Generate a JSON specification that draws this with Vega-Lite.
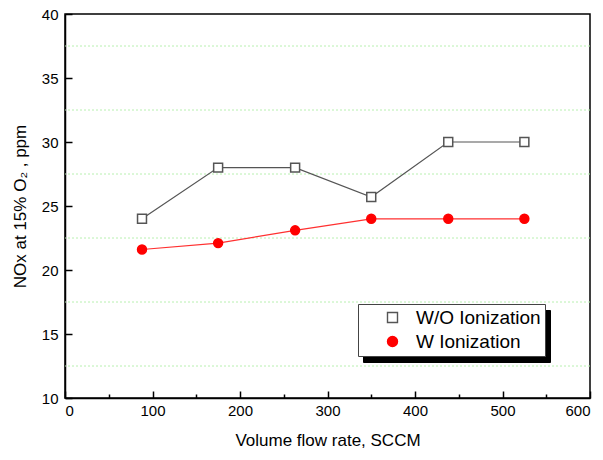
{
  "$schema": "https://vega.github.io/schema/vega-lite/v6.json",
  "width": 525,
  "height": 384,
  "autosize": {"type": "none"},
  "padding": {"left": 65, "top": 14, "right": 13, "bottom": 62},
  "config": {
    "font": "Liberation Sans",
    "view": {"stroke": "black", "strokeWidth": 1.5},
    "axis": {"grid": false, "domainColor": "black", "domainWidth": 1.5, "tickColor": "black", "tickWidth": 1.5,
             "labelColor": "black", "titleColor": "black", "labelFontSize": 15, "titleFontSize": 17, "titleFontWeight": "normal"},
    "legend": {"title": null, "orient": "none", "labelFontSize": 19, "symbolSize": 100, "padding": 4, "rowPadding": 4,
               "labelColor": "black", "symbolStrokeWidth": 1.4, "labelOffset": 14, "symbolOffset": 21, "symbolLimit": 0}
  },
  "datasets": {
    "pts": [
      {"flow": 88, "nox": 24.0, "series": "W/O Ionization"},
      {"flow": 175, "nox": 28.0, "series": "W/O Ionization"},
      {"flow": 263, "nox": 28.0, "series": "W/O Ionization"},
      {"flow": 350, "nox": 25.7, "series": "W/O Ionization"},
      {"flow": 438, "nox": 30.0, "series": "W/O Ionization"},
      {"flow": 525, "nox": 30.0, "series": "W/O Ionization"},
      {"flow": 88, "nox": 21.6, "series": "W Ionization"},
      {"flow": 175, "nox": 22.1, "series": "W Ionization"},
      {"flow": 263, "nox": 23.1, "series": "W Ionization"},
      {"flow": 350, "nox": 24.0, "series": "W Ionization"},
      {"flow": 438, "nox": 24.0, "series": "W Ionization"},
      {"flow": 525, "nox": 24.0, "series": "W Ionization"}
    ],
    "grid": [{"g": 12.5}, {"g": 17.5}, {"g": 22.5}, {"g": 27.5}, {"g": 32.5}, {"g": 37.5}]
  },
  "layer": [
    {
      "data": {"name": "grid"},
      "mark": {"type": "rule", "color": "#b8f0b0", "strokeDash": [2, 2], "strokeWidth": 1},
      "encoding": {
        "y": {"field": "g", "type": "quantitative", "scale": {"domain": [10, 40]}}
      }
    },
    {
      "data": {"name": "pts"},
      "mark": {"type": "line", "strokeWidth": 1.2},
      "encoding": {
        "x": {"field": "flow", "type": "quantitative", "scale": {"domain": [0, 600], "nice": false},
              "axis": {"title": "Volume flow rate, SCCM", "values": [0, 50, 100, 150, 200, 250, 300, 350, 400, 450, 500, 550, 600],
                       "labelExpr": "datum.value % 100 === 0 ? datum.label : ''",
                       "tickSize": {"expr": "datum.value % 100 === 0 ? -7 : -4"}, "labelPadding": 12, "titlePadding": 14}},
        "y": {"field": "nox", "type": "quantitative", "scale": {"domain": [10, 40], "nice": false},
              "axis": {"title": "NOx at 15% O₂ , ppm", "values": [10, 15, 20, 25, 30, 35, 40], "tickSize": -7, "labelPadding": 14, "titlePadding": 12}},
        "color": {"field": "series", "type": "nominal", "scale": {"domain": ["W Ionization", "W/O Ionization"], "range": ["#ff3030", "#555555"]},
                  "sort": "descending",
                  "legend": {"legendX": 298, "legendY": 296, "fillColor": "black", "strokeColor": "black", "labelOpacity": 0, "symbolOpacity": 0, "zindex": 0}},
        "detail": {"field": "series"}
      }
    },
    {
      "data": {"name": "pts"},
      "mark": {"type": "point", "filled": false, "size": 80, "strokeWidth": 1.5, "opacity": 1},
      "encoding": {
        "x": {"field": "flow", "type": "quantitative"},
        "y": {"field": "nox", "type": "quantitative"},
        "shape": {"field": "series", "type": "nominal", "scale": {"domain": ["W/O Ionization", "W Ionization"], "range": ["square", "circle"]},
                  "legend": {"legendX": 293, "legendY": 290, "strokeColor": "#444", "fillColor": "white", "zindex": 1}},
        "fill": {"field": "series", "type": "nominal", "scale": {"domain": ["W/O Ionization", "W Ionization"], "range": ["white", "red"]},
                 "legend": {"legendX": 293, "legendY": 290, "strokeColor": "#444", "fillColor": "white", "zindex": 1}},
        "stroke": {"field": "series", "type": "nominal", "scale": {"domain": ["W/O Ionization", "W Ionization"], "range": ["#555555", "red"]},
                   "legend": {"legendX": 293, "legendY": 290, "strokeColor": "#444", "fillColor": "white", "zindex": 1}}
      }
    }
  ]
}
